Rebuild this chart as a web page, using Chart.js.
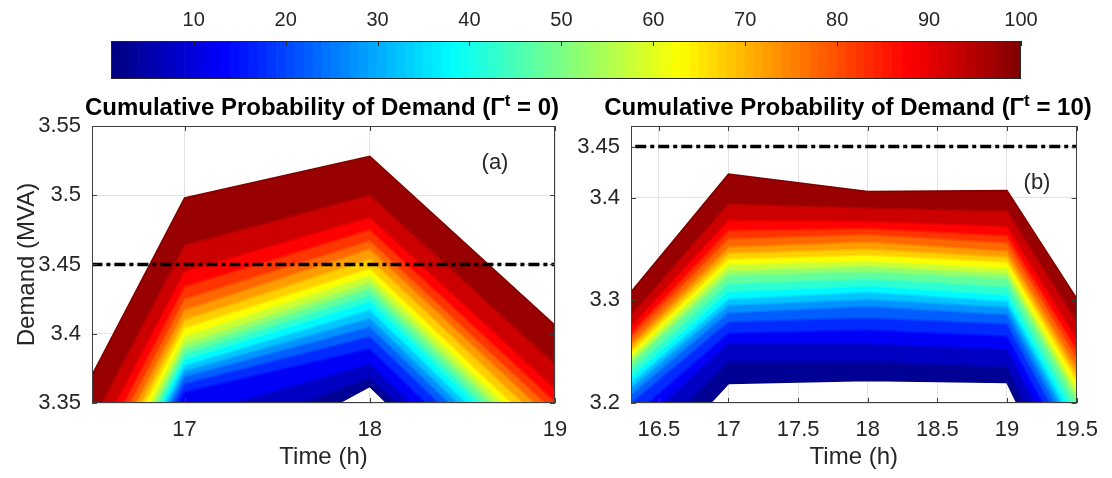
<!DOCTYPE html>
<html>
<head>
<meta charset="utf-8">
<script src="https://cdn.jsdelivr.net/npm/chart.js@4.4.0/dist/chart.umd.min.js"></script>
<style>
  body { margin: 0; background: #fff; width: 1112px; height: 478px; position: relative; overflow: hidden;
         font-family: "Liberation Sans", Arial, sans-serif; }
  canvas { position: absolute; }
  .titulo { position: absolute; top: 95px; font-weight: bold; font-size: 24px; line-height: 24px; color: #000;
            white-space: nowrap; transform: translateX(-50%); }
  .titulo sup { font-size: 17px; line-height: 0; }
  .letra { position: absolute; font-size: 22px; line-height: 22px; color: #262626; transform: translate(-50%, -50%); }
</style>
</head>
<body>
<canvas id="barra" width="1112" height="90" style="left:0;top:0"></canvas>
<canvas id="graficoA" width="590" height="388" style="left:0;top:90px"></canvas>
<canvas id="graficoB" width="552" height="388" style="left:560px;top:90px"></canvas>
<div class="titulo" style="left:322px">Cumulative Probability of Demand (&Gamma;<sup>t</sup> = 0)</div>
<div class="titulo" style="left:848px">Cumulative Probability of Demand (&Gamma;<sup>t</sup> = 10)</div>
<div class="letra" style="left:495px;top:162px">(a)</div>
<div class="letra" style="left:1037px;top:182px">(b)</div>
<script>
// percentis desenhados (niveis das curvas)
const percentis = [1, 5, 10, 15, 20, 25, 30, 35, 40, 45, 50, 55, 60, 65, 70, 75, 80, 85, 90, 95, 100];

// (a) Gamma = 0 : demanda por hora, um valor por percentil
const horasA = [16, 17, 18, 19];
const demandaA16 = [3.034, 3.062, 3.084, 3.102, 3.108, 3.113, 3.117, 3.121, 3.125, 3.129, 3.133, 3.137, 3.142, 3.148, 3.154, 3.161, 3.169, 3.178, 3.189, 3.208, 3.242];
const demandaA17 = [3.290, 3.318, 3.340, 3.358, 3.364, 3.369, 3.373, 3.377, 3.381, 3.385, 3.389, 3.393, 3.398, 3.404, 3.410, 3.417, 3.425, 3.434, 3.445, 3.464, 3.498];
const demandaA18 = [3.362, 3.368, 3.378, 3.389, 3.398, 3.405, 3.411, 3.417, 3.423, 3.428, 3.433, 3.437, 3.442, 3.447, 3.454, 3.461, 3.467, 3.475, 3.484, 3.500, 3.528];
const demandaA19 = [3.232, 3.240, 3.250, 3.260, 3.269, 3.276, 3.282, 3.288, 3.294, 3.299, 3.304, 3.309, 3.314, 3.320, 3.328, 3.336, 3.343, 3.351, 3.360, 3.378, 3.406];

// (b) Gamma = 10
const horasB = [16, 17, 18, 19, 20];
const demandaB16 = [3.073, 3.105, 3.133, 3.150, 3.166, 3.174, 3.180, 3.185, 3.190, 3.196, 3.202, 3.204, 3.207, 3.210, 3.214, 3.217, 3.222, 3.225, 3.230, 3.239, 3.259];
const demandaB17 = [3.219, 3.240, 3.258, 3.268, 3.279, 3.288, 3.295, 3.301, 3.308, 3.316, 3.324, 3.329, 3.335, 3.340, 3.346, 3.352, 3.360, 3.368, 3.378, 3.394, 3.423];
const demandaB18 = [3.222, 3.240, 3.258, 3.271, 3.283, 3.294, 3.301, 3.308, 3.314, 3.321, 3.328, 3.333, 3.338, 3.344, 3.350, 3.357, 3.364, 3.370, 3.377, 3.390, 3.406];
const demandaB19 = [3.220, 3.235, 3.252, 3.265, 3.277, 3.286, 3.293, 3.299, 3.305, 3.313, 3.321, 3.326, 3.331, 3.337, 3.342, 3.348, 3.356, 3.363, 3.372, 3.387, 3.407];
const demandaB20 = [2.940, 2.965, 2.992, 3.010, 3.025, 3.036, 3.045, 3.053, 3.062, 3.072, 3.083, 3.090, 3.097, 3.105, 3.113, 3.121, 3.131, 3.141, 3.153, 3.172, 3.197];

const limiteDemanda = 3.45;

// ticks
const ticksBarra = [10, 20, 30, 40, 50, 60, 70, 80, 90, 100];
const ticksXA = [17, 18, 19];
const ticksYA = [3.35, 3.4, 3.45, 3.5, 3.55];
const ticksXB = [16.5, 17, 17.5, 18, 18.5, 19, 19.5];
const ticksYB = [3.2, 3.3, 3.4, 3.45];

const fonte = '"Liberation Sans", Arial, sans-serif';
const corTexto = '#262626';
Chart.defaults.font.family = fonte;

function jet(x) {
  const c = v => Math.round(255 * Math.min(1, Math.max(0, v)));
  return `rgb(${c(1.5 - Math.abs(4 * x - 3))},${c(1.5 - Math.abs(4 * x - 2))},${c(1.5 - Math.abs(4 * x - 1))})`;
}

// caixa em volta da area + ticks para dentro (estilo matlab)
const caixa = {
  id: 'caixa',
  afterDraw(chart, args, opts) {
    const { ctx, chartArea: a } = chart;
    ctx.save();
    ctx.strokeStyle = opts.cor || '#404040';
    ctx.lineWidth = 1;
    ctx.beginPath();
    (opts.x || []).forEach(id => {
      const s = chart.scales[id];
      s.ticks.forEach(t => {
        const px = Math.round(s.getPixelForValue(t.value)) + 0.5;
        ctx.moveTo(px, a.top); ctx.lineTo(px, a.top + 5);
        if (!opts.soTopo) { ctx.moveTo(px, a.bottom); ctx.lineTo(px, a.bottom - 5); }
      });
    });
    (opts.y || []).forEach(id => {
      const s = chart.scales[id];
      s.ticks.forEach(t => {
        const py = Math.round(s.getPixelForValue(t.value)) + 0.5;
        ctx.moveTo(a.left, py); ctx.lineTo(a.left + 5, py);
        ctx.moveTo(a.right, py); ctx.lineTo(a.right - 5, py);
      });
    });
    ctx.stroke();
    ctx.strokeRect(Math.round(a.left) + 0.5, Math.round(a.top) + 0.5,
                   Math.round(a.right - a.left) - 1, Math.round(a.bottom - a.top) - 1);
    ctx.restore();
  }
};

// barra de cores
const binsBarra = Array.from({ length: 99 }, (_, i) => i + 1);
new Chart(document.getElementById('barra'), {
  type: 'bar',
  data: {
    labels: binsBarra,
    datasets: [{
      data: binsBarra.map(() => 1),
      backgroundColor: binsBarra.map(b => jet((b - 0.5) / 99)),
      barPercentage: 1,
      categoryPercentage: 1,
      borderWidth: 0
    }]
  },
  options: {
    responsive: false,
    animation: false,
    events: [],
    layout: { padding: { left: 111, right: 91, top: 0, bottom: 11 } },
    plugins: { legend: { display: false }, tooltip: { enabled: false }, caixa: { x: ['xTop'], soTopo: true, cor: '#262626' } },
    scales: {
      x: { display: false },
      y: { display: false, min: 0, max: 1 },
      xTop: {
        type: 'linear', position: 'top', min: 1, max: 100, offset: false,
        afterBuildTicks: s => { s.ticks = ticksBarra.map(v => ({ value: v })); },
        afterFit: s => { s.height = 41; },
        grid: { display: false, drawTicks: false, offset: false },
        border: { display: false },
        ticks: { padding: 9, color: corTexto, font: { size: 20 } }
      }
    }
  },
  plugins: [caixa]
});

function montarDatasets(horas, colunas) {
  const ds = percentis.map((p, k) => {
    const meio = k === 0 ? p : (percentis[k - 1] + p) / 2;
    return {
      data: horas.map((h, i) => ({ x: h, y: colunas[i][k] })),
      borderColor: jet((p - 1) / 99),
      backgroundColor: jet((meio - 1) / 99),
      borderWidth: 1.6,
      fill: k === 0 ? false : '-1',
      pointRadius: 0,
      tension: 0,
      clip: 0
    };
  });
  ds.push({
    data: [{ x: horas[0], y: limiteDemanda }, { x: horas[horas.length - 1], y: limiteDemanda }],
    borderColor: '#000',
    borderWidth: 3.5,
    borderDash: [11, 4, 4, 4],
    fill: false,
    pointRadius: 0,
    order: -1,
    clip: 0
  });
  return ds;
}

function gerarGraficoDemanda(id, horas, colunas, cfg) {
  new Chart(document.getElementById(id), {
    type: 'line',
    data: { datasets: montarDatasets(horas, colunas) },
    options: {
      responsive: false,
      animation: false,
      events: [],
      layout: { padding: { left: 0, right: cfg.direita, top: 36, bottom: 0 } },
      plugins: { legend: { display: false }, tooltip: { enabled: false }, caixa: { x: ['x'], y: ['y'] } },
      scales: {
        x: {
          type: 'linear', min: cfg.xMin, max: cfg.xMax,
          afterBuildTicks: s => { s.ticks = cfg.ticksX.map(v => ({ value: v })); },
          afterFit: s => { s.height = 75; },
          grid: { color: '#e3e3e3', drawTicks: false },
          border: { display: false },
          ticks: { padding: 14, color: corTexto, font: { size: 22 }, callback: v => String(+v.toFixed(2)) },
          title: { display: true, text: 'Time (h)', color: corTexto, font: { size: 24 }, padding: { top: 0, bottom: 6 } }
        },
        y: {
          type: 'linear', min: cfg.yMin, max: cfg.yMax,
          afterBuildTicks: s => { s.ticks = cfg.ticksY.map(v => ({ value: v })); },
          afterFit: s => { s.width = cfg.larguraY; },
          grid: { color: '#e3e3e3', drawTicks: false },
          border: { display: false },
          ticks: { padding: 11, color: corTexto, font: { size: 22 }, callback: v => String(+v.toFixed(2)) },
          title: { display: cfg.tituloY, text: 'Demand (MVA)', color: corTexto, font: { size: 24 }, padding: { top: 13, bottom: 0 } }
        }
      }
    },
    plugins: [caixa]
  });
}

gerarGraficoDemanda('graficoA', horasA, [demandaA16, demandaA17, demandaA18, demandaA19], {
  xMin: 16.5, xMax: 19, yMin: 3.35, yMax: 3.55, ticksX: ticksXA, ticksY: ticksYA,
  larguraY: 92, direita: 35, tituloY: true
});

gerarGraficoDemanda('graficoB', horasB, [demandaB16, demandaB17, demandaB18, demandaB19, demandaB20], {
  xMin: 16.3, xMax: 19.5, yMin: 3.2, yMax: 3.47, ticksX: ticksXB, ticksY: ticksYB,
  larguraY: 71, direita: 34, tituloY: false
});
</script>
</body>
</html>
